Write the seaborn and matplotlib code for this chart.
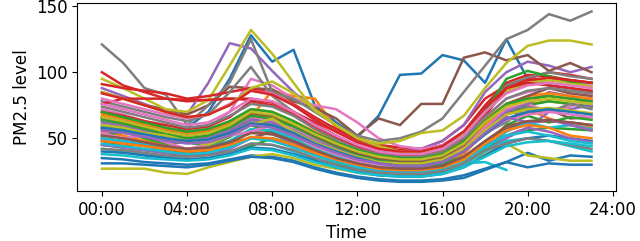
import numpy as np
import pandas as pd
import matplotlib
matplotlib.use("Agg")
import matplotlib.pyplot as plt
import seaborn as sns

hours = list(range(24))
tick_hours = [0, 4, 8, 12, 16, 20, 24]
tick_labels = ["00:00", "04:00", "08:00", "12:00", "16:00", "20:00", "24:00"]
nan = np.nan

s00 = [65, 62, 58, 55, 58, 70, 95, 128, 108, 117, 75, 62, 51, 67, 98, 99, 113, 109, 92, 125, 95, 90, 88, 85]
s01 = [70, 65, 60, 55, 52, 55, 60, 66, 86, 82, 80, 58, 52, 43, 38, 36, 38, 45, 60, 72, 76, 78, 76, 74]
s02 = [60, 57, 54, 50, 48, 50, 56, 64, 62, 55, 47, 40, 35, 31, 29, 29, 32, 40, 55, 68, 75, 78, 76, 74]
s03 = [100, 90, 85, 80, 78, 79, 80, 79, 78, 70, 62, 55, 48, 45, 43, 42, 48, 60, 80, 90, 95, 100, 98, 95]
s04 = [88, 82, 76, 70, 68, 92, 122, 118, 101, 85, 72, 60, 48, 42, 40, 42, 48, 60, 85, 100, 108, 105, 100, 104]
s05 = [85, 80, 75, 72, 68, 75, 89, 88, 87, 78, 73, 65, 52, 65, 60, 76, 76, 111, 115, 109, 113, 101, 107, 100]
s06 = [72, 68, 63, 58, 55, 58, 70, 95, 90, 80, 75, 72, 62, 50, 44, 42, 45, 55, 65, 80, 85, 88, 86, 84]
s07 = [121, 107, 88, 83, 60, 75, 92, 125, 85, 80, 70, 60, 52, 48, 50, 55, 65, 85, 105, 125, 132, 144, 139, 146]
s08 = [95, 88, 80, 72, 70, 79, 105, 132, 114, 92, 71, 60, 50, 46, 48, 54, 56, 67, 88, 107, 120, 124, 124, 121]
s09 = [48, 46, 44, 41, 39, 40, 44, 51, 49, 44, 38, 33, 29, 27, 26, 26, 28, 31, 32, 26, nan, nan, nan, nan]
s10 = [35, 34, 32, 31, 30, 31, 34, 37, 36, 33, 28, 24, 21, 19, 18, 18, 19, 22, 27, 32, 39, 33, 37, 36]
s11 = [55, 52, 48, 45, 42, 44, 48, 55, 54, 48, 42, 36, 31, 28, 27, 27, 30, 38, 55, 68, 72, 65, 60, 58]
s12 = [45, 43, 41, 39, 37, 38, 40, 44, 50, 46, 38, 31, 27, 24, 23, 23, 25, 31, 42, 52, 56, 58, 57, 56]
s13 = [91, 88, 86, 84, 80, 82, 85, 88, 84, 76, 66, 57, 49, 44, 41, 40, 44, 55, 75, 92, 98, 97, 94, 92]
s14 = [50, 48, 45, 42, 40, 42, 47, 55, 53, 47, 40, 35, 30, 27, 26, 27, 30, 33, 40, 50, 58, 70, 72, 75]
s15 = [58, 55, 52, 50, 49, 50, 55, 66, 58, 52, 47, 41, 36, 32, 30, 30, 33, 41, 55, 70, 68, 72, 65, 66]
s16 = [63, 60, 56, 52, 49, 51, 57, 66, 64, 58, 50, 43, 38, 34, 32, 32, 35, 43, 58, 72, 76, 70, 74, 80]
s17 = [78, 74, 70, 66, 63, 68, 85, 104, 82, 70, 60, 52, 44, 40, 38, 38, 42, 52, 72, 90, 96, 100, 97, 95]
s18 = [27, 27, 27, 24, 23, 28, 32, 36, 38, 35, 30, 27, 24, 22, 22, 24, 27, 32, 38, 46, 37, 35, 33, 33]
s19 = [42, 40, 38, 36, 34, 35, 39, 46, 45, 40, 34, 29, 25, 23, 22, 22, 24, 30, 40, 48, 50, 48, 44, 40]
s20 = [31, 31, 30, 29, 28, 30, 33, 36, 35, 32, 27, 23, 20, 18, 17, 17, 18, 20, 26, 32, 28, 31, 30, 30]
s21 = [66, 62, 58, 55, 52, 54, 60, 68, 66, 60, 52, 45, 39, 35, 33, 33, 36, 45, 62, 75, 80, 82, 80, 78]
s22 = [52, 55, 50, 46, 47, 44, 51, 60, 54, 51, 46, 38, 34, 31, 28, 29, 31, 36, 45, 60, 67, 62, 66, 64]
s23 = [76, 80, 80, 80, 79, 79, 80, 80, 77, 70, 60, 52, 44, 40, 38, 38, 42, 52, 70, 85, 92, 95, 94, 92]
s24 = [62, 59, 55, 51, 48, 50, 56, 64, 62, 56, 48, 42, 37, 33, 31, 31, 34, 42, 56, 70, 76, 85, 82, 75]
s25 = [48, 44, 46, 42, 38, 41, 47, 50, 55, 48, 40, 35, 30, 27, 26, 26, 28, 35, 47, 57, 62, 63, 62, 60]
s26 = [80, 76, 72, 68, 65, 68, 76, 86, 84, 75, 64, 55, 47, 42, 40, 40, 44, 54, 72, 86, 92, 94, 92, 90]
s27 = [57, 55, 52, 49, 47, 49, 54, 62, 60, 54, 46, 40, 35, 31, 30, 30, 33, 40, 54, 62, 74, 70, 76, 72]
s28 = [85, 80, 75, 70, 66, 68, 75, 88, 93, 84, 72, 60, 50, 44, 40, 39, 43, 53, 70, 86, 92, 94, 92, 89]
s29 = [50, 48, 46, 44, 42, 43, 48, 57, 56, 50, 42, 36, 31, 28, 27, 27, 29, 34, 42, 55, 62, 58, 60, 57]
s30 = [40, 39, 37, 35, 34, 35, 38, 43, 42, 38, 33, 28, 25, 22, 21, 21, 23, 28, 37, 46, 50, 52, 50, 48]
s31 = [68, 65, 61, 57, 54, 56, 62, 72, 70, 63, 55, 48, 42, 38, 36, 36, 39, 48, 64, 76, 82, 84, 82, 80]
s32 = [64, 61, 57, 53, 50, 52, 58, 67, 65, 59, 51, 44, 38, 34, 32, 32, 36, 48, 70, 95, 101, 97, 93, 92]
s33 = [70, 67, 63, 60, 57, 59, 66, 78, 75, 68, 58, 50, 43, 39, 37, 37, 40, 50, 67, 88, 92, 90, 88, 86]
s34 = [45, 43, 41, 39, 37, 38, 42, 50, 49, 44, 38, 33, 29, 26, 25, 25, 27, 34, 45, 52, 58, 55, 50, 47]
s35 = [66, 63, 59, 55, 52, 54, 60, 69, 67, 61, 52, 45, 39, 35, 33, 33, 36, 45, 62, 76, 82, 88, 84, 82]
s36 = [54, 50, 52, 47, 42, 45, 52, 55, 60, 52, 44, 38, 33, 30, 29, 29, 32, 40, 53, 64, 68, 70, 68, 66]
s37 = [74, 70, 66, 62, 58, 60, 67, 76, 74, 67, 57, 49, 42, 38, 36, 36, 40, 50, 66, 80, 86, 88, 86, 84]
s38 = [60, 58, 54, 52, 48, 45, 52, 60, 65, 55, 47, 41, 36, 32, 31, 31, 34, 42, 56, 68, 72, 73, 71, 69]
s39 = [46, 44, 42, 40, 38, 39, 43, 50, 48, 43, 37, 32, 28, 25, 24, 24, 26, 32, 44, 52, 55, 52, 48, 46]
s40 = [58, 56, 53, 50, 48, 49, 54, 61, 60, 54, 46, 40, 35, 31, 29, 29, 32, 40, 53, 65, 70, 72, 70, 68]
s41 = [48, 46, 44, 42, 40, 41, 45, 51, 50, 45, 39, 34, 30, 27, 26, 26, 28, 34, 46, 56, 60, 58, 52, 50]
s42 = [70, 66, 62, 58, 55, 57, 63, 72, 70, 63, 54, 47, 41, 37, 35, 35, 38, 47, 63, 76, 80, 82, 80, 78]
s43 = [84, 80, 75, 70, 66, 68, 75, 86, 83, 75, 64, 55, 47, 42, 40, 40, 44, 55, 73, 88, 94, 96, 94, 92]
s44 = [56, 54, 51, 48, 46, 47, 52, 60, 58, 52, 45, 39, 34, 31, 29, 29, 32, 40, 54, 66, 62, 64, 60, 56]
s45 = [52, 50, 47, 44, 42, 43, 47, 54, 53, 48, 41, 35, 31, 28, 27, 27, 29, 36, 48, 59, 63, 64, 62, 60]
s46 = [76, 72, 68, 64, 60, 62, 70, 80, 78, 70, 60, 52, 45, 40, 38, 38, 42, 52, 70, 84, 90, 92, 90, 88]
s47 = [42, 41, 39, 37, 36, 37, 40, 46, 45, 41, 35, 30, 26, 24, 23, 23, 25, 31, 41, 46, 50, 48, 45, 42]
s48 = [66, 63, 59, 55, 52, 54, 60, 70, 68, 61, 53, 46, 40, 36, 34, 34, 37, 46, 62, 74, 78, 80, 78, 76]
s49 = [38, 37, 35, 34, 33, 34, 37, 42, 41, 37, 32, 28, 24, 22, 21, 21, 23, 28, 36, 44, 47, 48, 46, 44]

series = [s00, s01, s02, s03, s04, s05, s06, s07, s08, s09,
          s10, s11, s12, s13, s14, s15, s16, s17, s18, s19,
          s20, s21, s22, s23, s24, s25, s26, s27, s28, s29,
          s30, s31, s32, s33, s34, s35, s36, s37, s38, s39,
          s40, s41, s42, s43, s44, s45, s46, s47, s48, s49]

rows = []
for i, s in enumerate(series):
    for h, v in zip(hours, s):
        rows.append({"station": f"st{i:02d}", "hour": h, "pm25": v})
df = pd.DataFrame(rows).dropna()

order = [f"st{i:02d}" for i in range(len(series))]
tab10 = sns.color_palette("tab10", 10)
palette = {name: tab10[i % 10] for i, name in enumerate(order)}

fig, ax = plt.subplots(figsize=(6.4, 2.41), dpi=100)
fig.subplots_adjust(left=0.121, right=0.9625, top=0.988, bottom=0.207)

sns.lineplot(data=df, x="hour", y="pm25", hue="station", hue_order=order,
             palette=palette, estimator=None, legend=False, linewidth=1.8, ax=ax)

ax.set_xticks(tick_hours)
ax.set_xticklabels(tick_labels)
ax.set_xlim(-1.15, 24.15)
ax.set_ylim(10, 152.5)
ax.set_yticks([50, 100, 150])
ax.tick_params(labelsize=12)
ax.set_xlabel("Time", fontsize=12)
ax.set_ylabel("PM2.5 level", fontsize=12)

fig.savefig("out.png", dpi=100)
